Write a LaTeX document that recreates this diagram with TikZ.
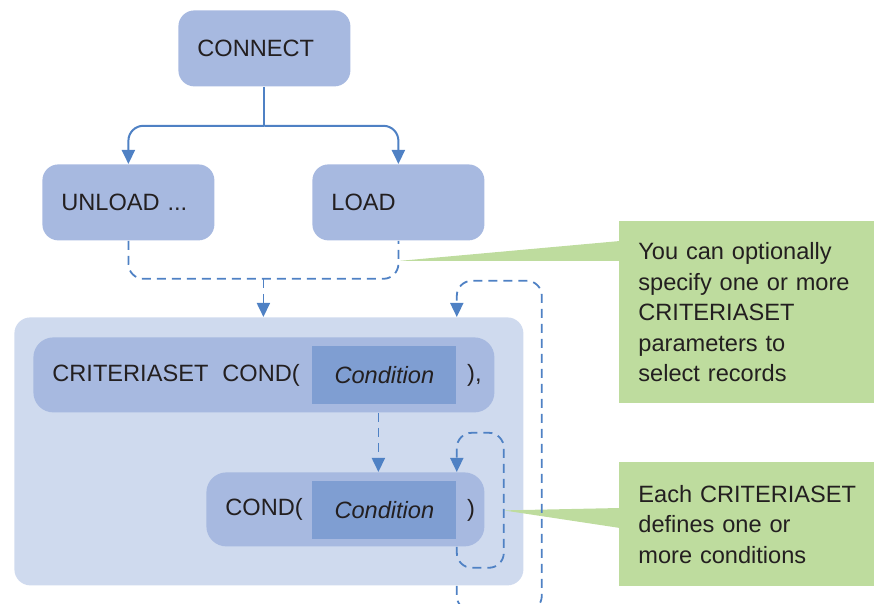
\documentclass[tikz,border=0pt]{standalone}
\usepackage{fontspec}
\setmainfont{Liberation Sans}
\usepackage{tikz}
\usetikzlibrary{arrows.meta, positioning, calc}
\definecolor{corCaixa}{RGB}{167, 185, 224}
\definecolor{corFundo}{RGB}{207, 218, 238}
\definecolor{corCond}{RGB}{127, 158, 210}
\definecolor{corLinha}{RGB}{79, 129, 196}
\definecolor{corNota}{RGB}{190, 220, 158}
\definecolor{corTexto}{RGB}{35, 31, 32}

\begin{document}
\begin{tikzpicture}[
    x=0.5pt, y=-0.5pt,
    >={Triangle[length=7pt, width=6.5pt]},
    every node/.style={font=\fontsize{11.8}{15.25}\selectfont, text=corTexto},
    caixa/.style={
        fill=corCaixa, rounded corners=8pt, anchor=north west,
        minimum height=38pt, inner xsep=9.5pt, align=left
    },
    fundo/.style={fill=corFundo, rounded corners=8pt, anchor=north west},
    cond/.style={
        fill=corCond, anchor=north west, minimum width=72pt, minimum height=29pt,
        font=\fontsize{11.8}{15.25}\selectfont\itshape
    },
    nota/.style={fill=corNota, anchor=north west, inner xsep=9.5pt, align=left},
    txt/.style={anchor=west, inner sep=0pt},
    linha/.style={draw=corLinha, line width=1pt, rounded corners=7.5pt},
    tracejada/.style={linha, line width=0.9pt, dash pattern=on 4.5pt off 3pt}
]
\useasboundingbox (0,0) rectangle (874,604);

\node[caixa, text width=67pt] (connect) at (178,10) {CONNECT};
\node[caixa, text width=67pt] (unload) at (42,164) {UNLOAD ...};
\node[caixa, text width=67pt] (load) at (312,164) {LOAD};

\node[fundo, minimum width=254.5pt, minimum height=134pt] (grupo) at (14,317) {};

\node[caixa, rounded corners=10pt, minimum width=230.5pt, minimum height=37.5pt] (criteria) at (33,337) {};
\node[cond] (cond1) at (312,346) {Condition};
\node[txt] at ($(criteria.west)+(19,0)$) {CRITERIASET\hspace{7pt}COND(};
\node[txt] at ($(cond1.east)+(10,0)$) {),};

\node[caixa, rounded corners=10pt, minimum width=139pt, minimum height=37pt] (condbox) at (206,472) {};
\node[cond] (cond2) at (312,481) {Condition};
\node[txt] at ($(condbox.west)+(19,0)$) {COND(};
\node[txt] at ($(cond2.east)+(10,0)$) {)};

\node[nota, text width=118pt, minimum height=91pt] (nota1) at (619,221)
    {You can optionally\\specify one or more\\CRITERIASET\\parameters to\\select records};
\node[nota, text width=118pt, minimum height=62pt] (nota2) at (619,462)
    {Each CRITERIASET\\defines one or\\more conditions};

\fill[corNota] ($(load.south)+(2,20)$) -- ($(nota1.north west)+(1,20)$) -- ($(nota1.north west)+(1,40)$) -- cycle;
\fill[corNota] ($(cond2.east |- cond2.center)+(47,0)$) -- ($(nota2.north west)+(1,46)$) -- ($(nota2.north west)+(1,66)$) -- cycle;

\coordinate (ramo) at ($(connect.south)+(0,39)$);
\draw[linha] (connect.south) -- (ramo);
\draw[linha, ->] (ramo) -| (unload.north);
\draw[linha, ->] (ramo) -| (load.north);

\coordinate (juncao) at ($(unload.south)!0.5!(load.south)+(0,38)$);
\draw[tracejada] (unload.south) |- ($(load.south)+(0,38)$) -- (load.south);
\draw[tracejada, ->] (juncao) -- (juncao |- grupo.north);

\coordinate (desce) at ($(cond1.south)+(-6,0)$);
\draw[tracejada, ->] (desce |- criteria.south) -- (desce |- condbox.north);

\draw[tracejada, ->] (cond2.east |- condbox.south) -- ++(0,21) -| ++(47,-135) -| (cond2.east |- condbox.north);

\begin{scope}
\clip (0,0) rectangle (874,604);
\draw[tracejada, ->] (cond1.east |- grupo.south) -- ++(0,25) -| ++(85,-330) -| (cond1.east |- grupo.north);
\end{scope}

\end{tikzpicture}
\end{document}
